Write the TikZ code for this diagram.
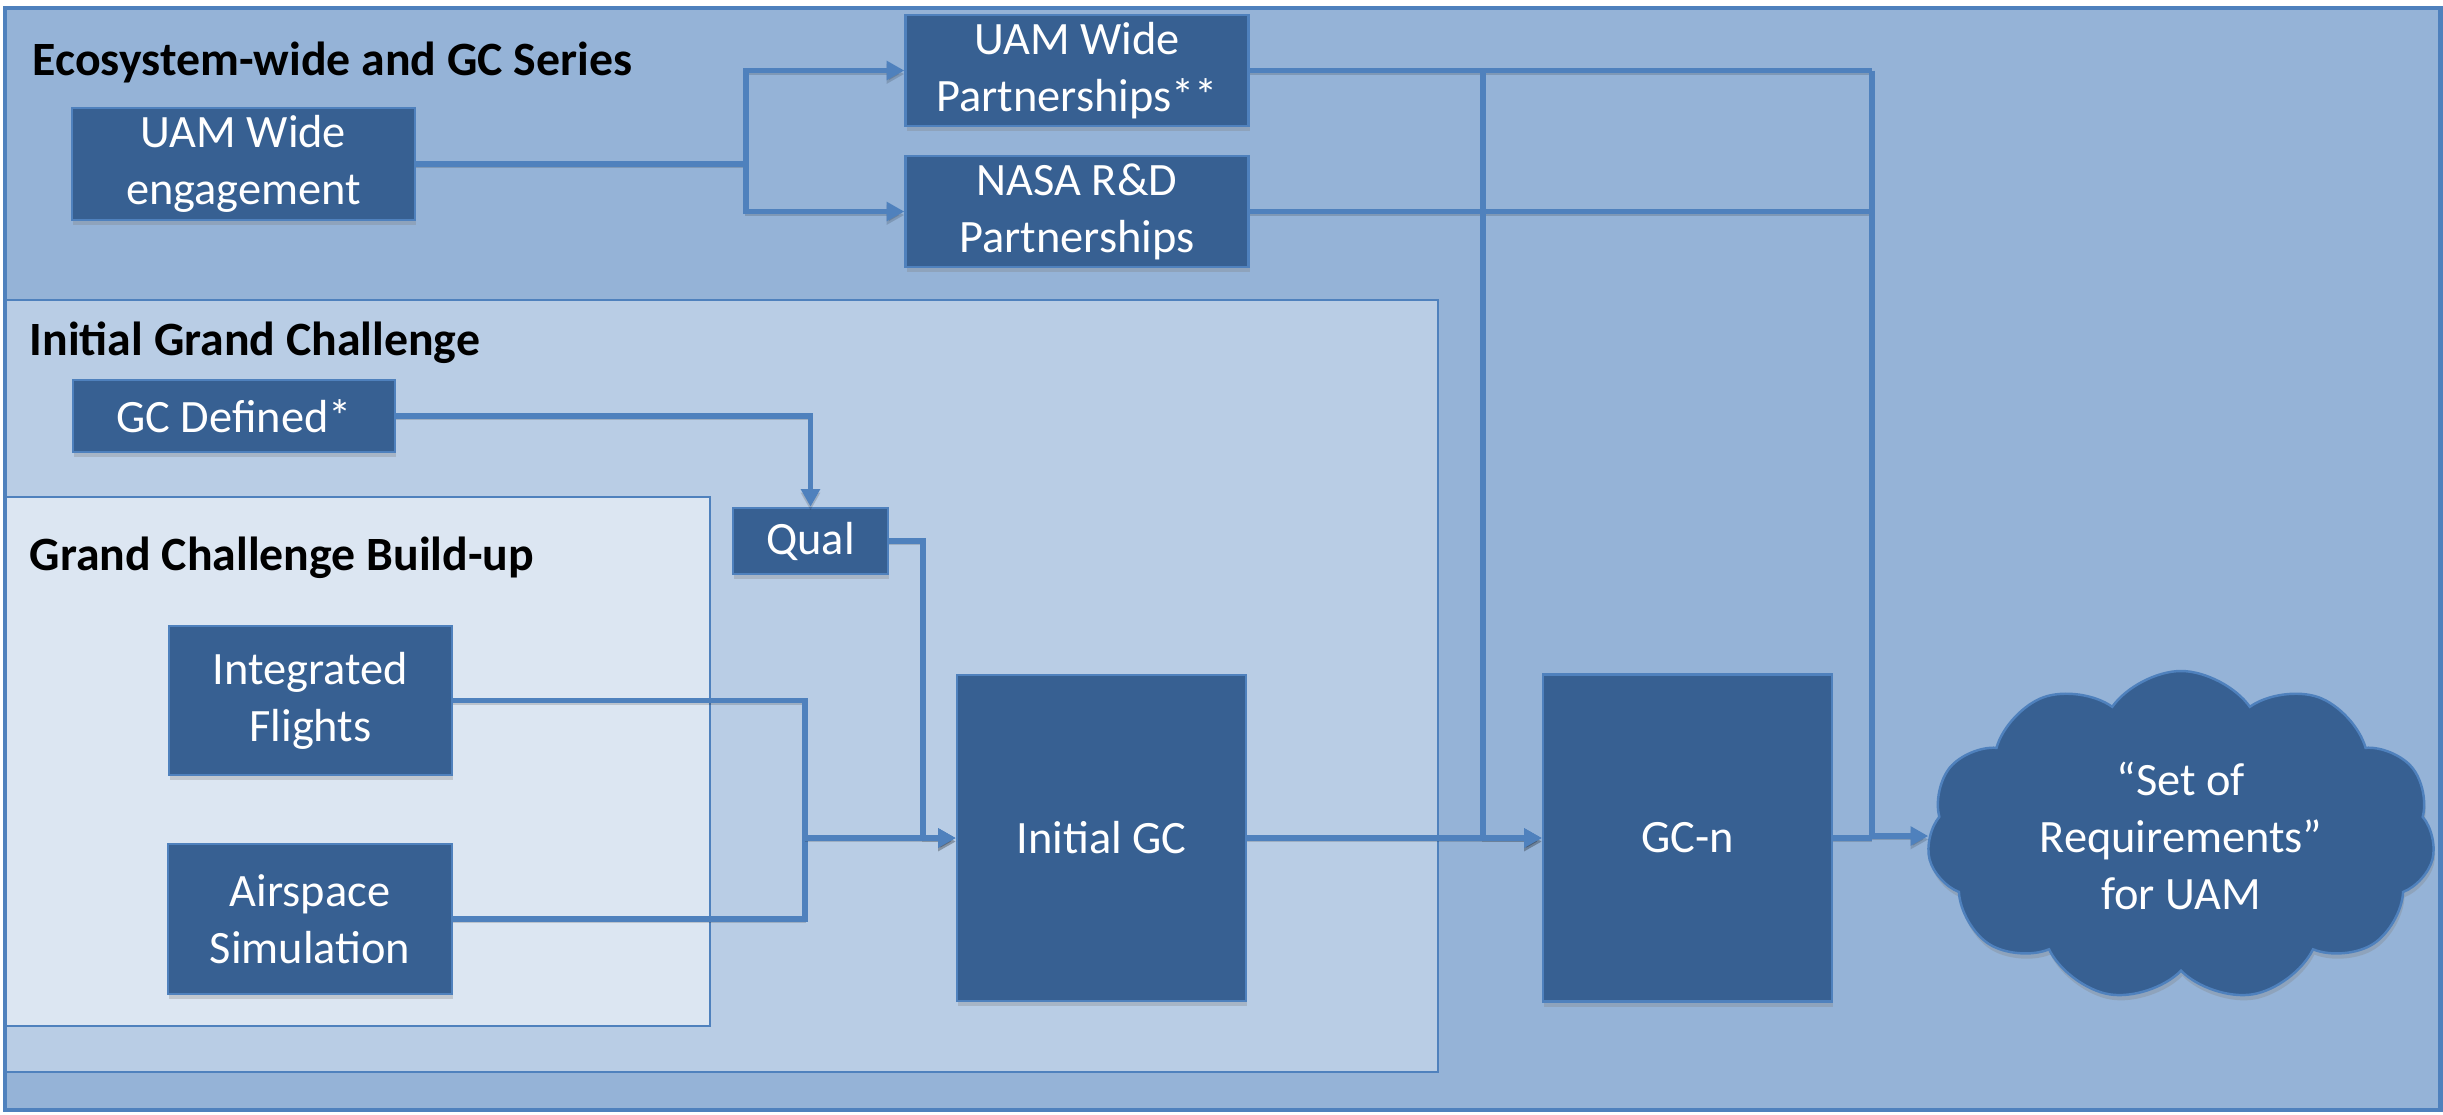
\documentclass[tikz,border=0pt]{standalone}
\usepackage{fontspec}
\setmainfont{Carlito}
\usetikzlibrary{arrows.meta, positioning, calc, shapes.symbols, shadows}

\definecolor{bgouter}{HTML}{95B3D7}
\definecolor{bgmid}{HTML}{B9CDE5}
\definecolor{bginner}{HTML}{DCE6F2}
\definecolor{boxfill}{HTML}{376092}
\definecolor{edge}{HTML}{4F81BD}

\tikzset{
  stage/.style={draw=edge, line width=0.7pt, fill=boxfill, text=white, align=center,
    font=\fontsize{13.2}{16.2}\selectfont, inner sep=0pt,
    drop shadow={shadow xshift=0.4pt, shadow yshift=-1.5pt, opacity=0.3}},
  link/.style={draw=edge, line width=1.5pt,
    preaction={draw=black, opacity=0.15, transform canvas={yshift=-1pt}}},
  title/.style={anchor=base west, font=\fontsize{13.6}{16}\selectfont\bfseries, inner sep=0pt},
}

\begin{document}
\begin{tikzpicture}[>={Triangle[length=5pt,width=5.2pt]}]
  \useasboundingbox (0,0) rectangle (24.43,-11.14);

  % panels
  \draw[edge, line width=1.4pt, fill=bgouter] (0.05,-0.08) rectangle (24.40,-11.10);
  \draw[edge, line width=0.8pt, fill=bgmid] (0.06,-3.00) rectangle (14.38,-10.72);
  \draw[edge, line width=0.6pt, fill=bginner] (0.06,-4.97) rectangle (7.10,-10.26);

  \node[title] (tsys) at (0.32,-0.75) {Ecosystem-wide and GC Series};
  \node[title] (tinit) at (0.29,-3.55) {Initial Grand Challenge};
  \node[title] (tbuild) at (0.29,-5.70) {Grand Challenge Build-up};

  % boxes
  \node[stage, minimum width=3.43cm, minimum height=1.12cm] (engage) at (2.435,-1.64) {UAM Wide\\engagement};
  \node[stage, minimum width=3.43cm, minimum height=1.11cm] (uamp) at (10.77,-0.705) {UAM Wide\\Partnerships**};
  \node[stage, minimum width=3.43cm, minimum height=1.11cm] (nasap) at (10.77,-2.115) {NASA R\&D\\Partnerships};
  \node[stage, minimum width=3.22cm, minimum height=0.72cm] (gcdef) at (2.34,-4.16) {GC Defined*};
  \node[stage, minimum width=1.55cm, minimum height=0.66cm] (qual) at (8.105,-5.41) {Qual};
  \node[stage, minimum width=2.83cm, minimum height=1.49cm] (intfl) at (3.105,-7.005) {Integrated\\Flights};
  \node[stage, minimum width=2.84cm, minimum height=1.50cm] (airsim) at (3.10,-9.19) {Airspace\\Simulation};
  \node[stage, minimum width=2.89cm, minimum height=3.26cm] (initgc) at (11.015,-8.38) {Initial GC};
  \node[stage, minimum width=2.89cm, minimum height=3.27cm] (gcn) at (16.875,-8.38) {GC-n};
  \node[stage, cloud, cloud puffs=11, cloud puff arc=110, cloud ignores aspect,
    minimum width=5.08cm, minimum height=3.3cm] (cloud) at (21.81,-8.36) {“Set of\\Requirements”\\for UAM};

  % ecosystem links
  \coordinate (split) at (7.46,-1.64);
  \draw[link] (engage) -- (split);
  \draw[link, ->] (split) |- (uamp);
  \draw[link, ->] (split) |- (nasap);

  \coordinate (tapn) at (14.83,-0.705);
  \coordinate (tapr) at (18.72,-0.705);
  \draw[link] (uamp) -- (tapr);
  \draw[link] (nasap) -- (nasap -| tapr);
  \draw[link, ->] (tapn) |- (gcn);
  \draw[link, ->] (tapr) |- (cloud.west);

  % challenge links
  \draw[link, ->] (gcdef) -| (qual);
  \coordinate (qbend) at (9.23,-5.41);
  \draw[link, ->] (qual) -- (qbend) |- (initgc);
  \coordinate (merge) at (8.05,-8.38);
  \draw[link] (intfl) -| (merge) |- (airsim);
  \draw[link, ->] (merge) -- (initgc);
  \draw[link, ->] (initgc) -- (gcn);
  \draw[link] (gcn) -- (gcn -| tapr);
\end{tikzpicture}
\end{document}
